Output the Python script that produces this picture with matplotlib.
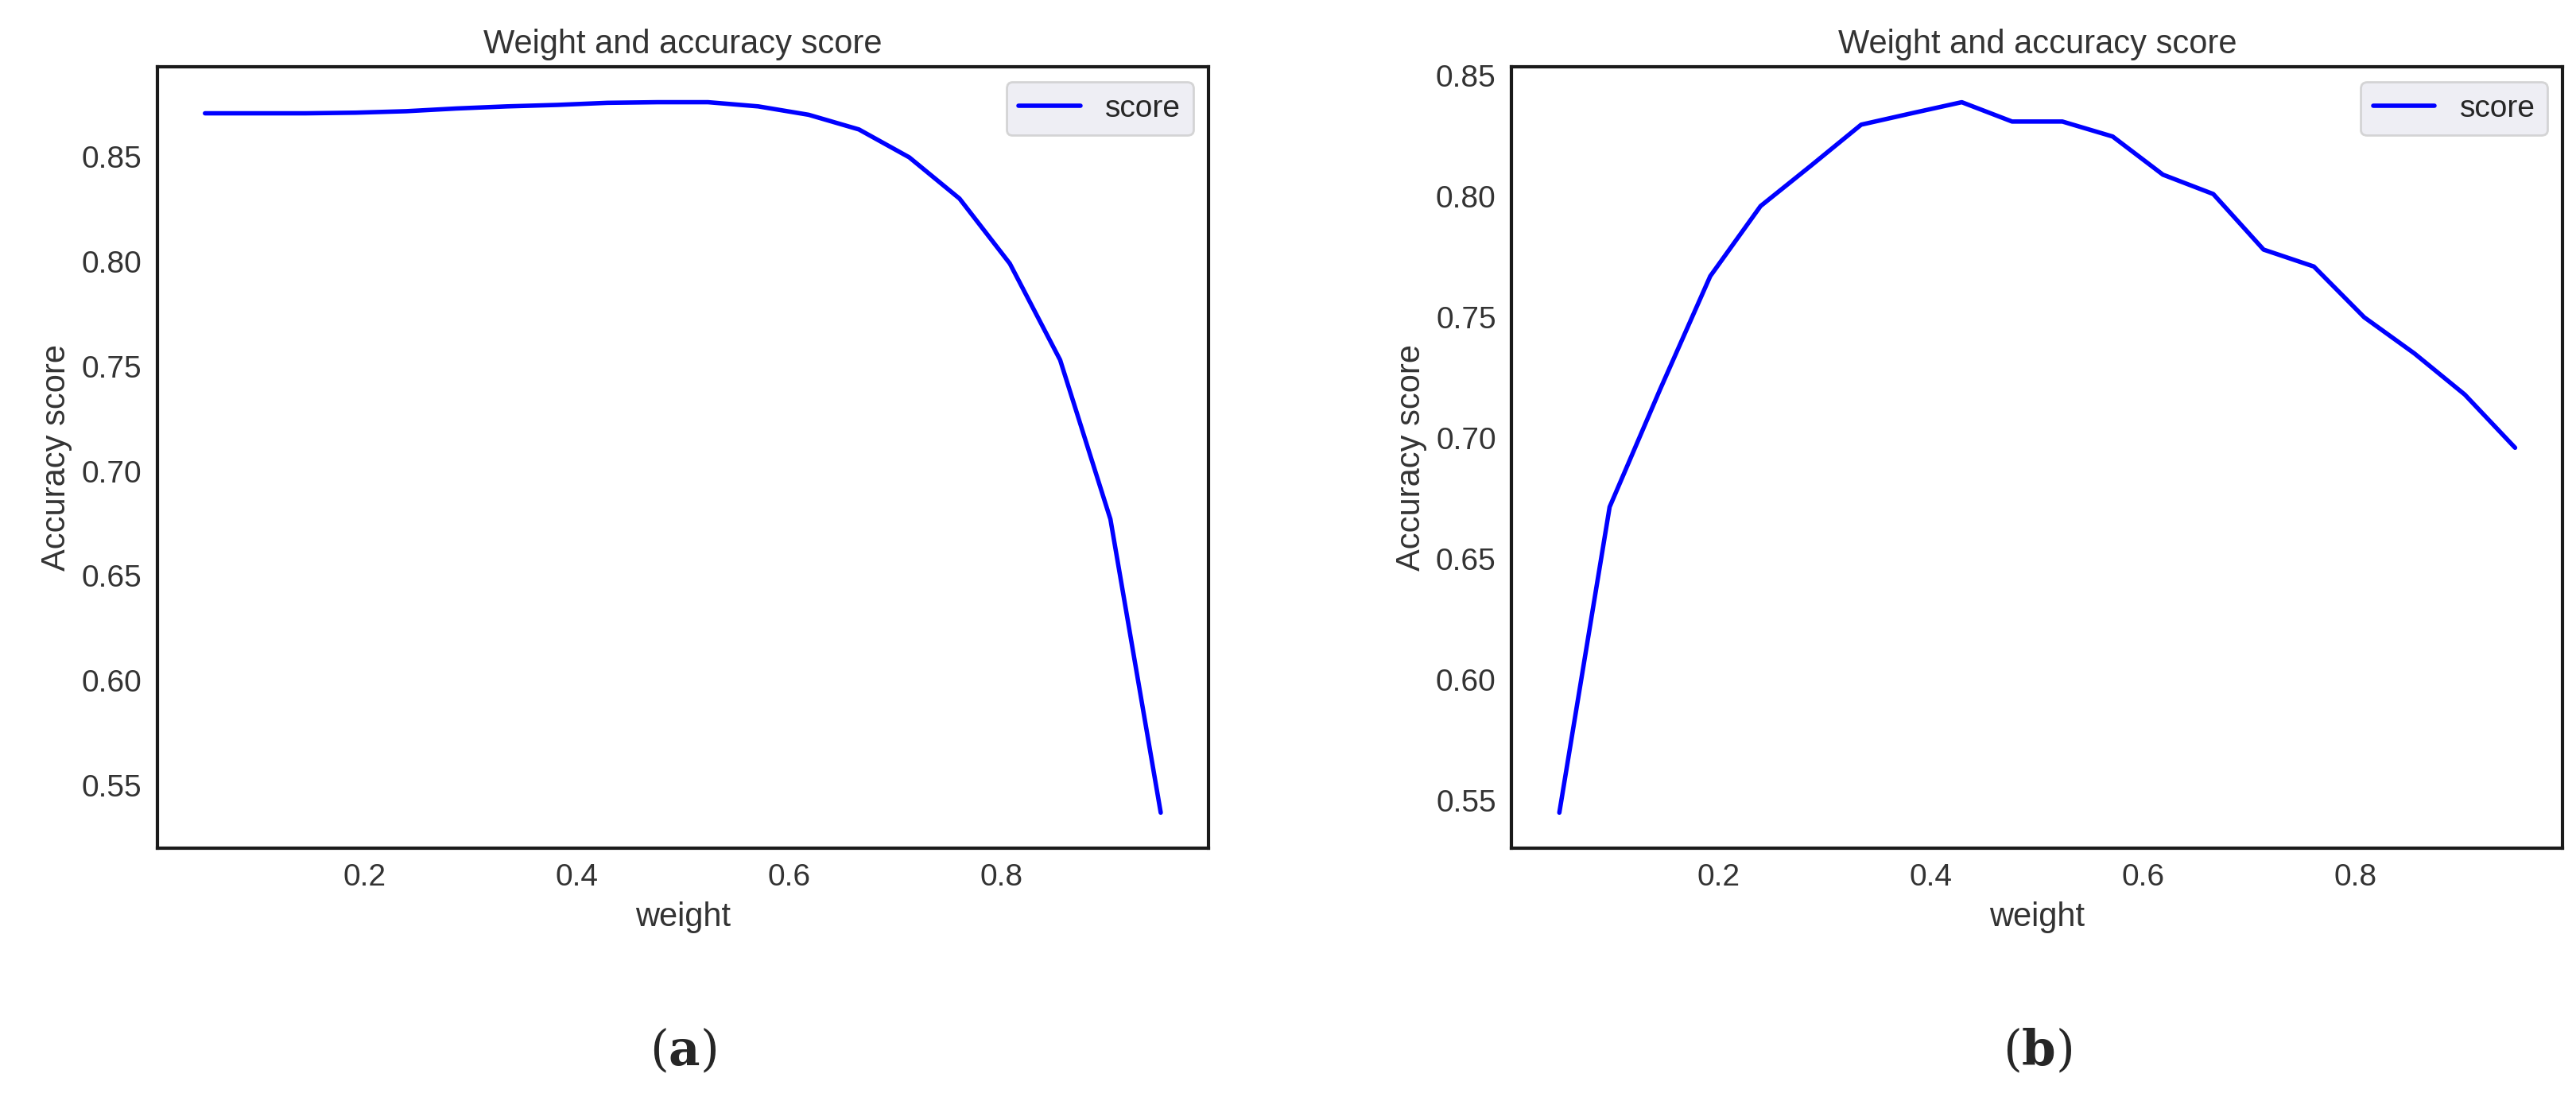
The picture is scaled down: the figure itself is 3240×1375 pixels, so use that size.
import matplotlib
matplotlib.use("Agg")
import matplotlib.pyplot as plt
import numpy as np
import seaborn as sns

sns.set_style("white")
plt.rcParams['font.family'] = ['Arial', 'Liberation Sans', 'DejaVu Sans']

# weights: 20 evenly spaced values between 0.05 and 0.95
weights = np.linspace(0.05, 0.95, 20)

score_a = [0.8707, 0.8707, 0.8707, 0.8710, 0.8717, 0.8730, 0.8740, 0.8747, 0.8757, 0.8760,
           0.8760, 0.8740, 0.8700, 0.8630, 0.8497, 0.8300, 0.7990, 0.7530, 0.6770, 0.5370]
score_b = [0.545, 0.6715, 0.720, 0.767, 0.796, 0.8127, 0.8297, 0.8344, 0.839, 0.831,
           0.831, 0.8248, 0.809, 0.801, 0.778, 0.771, 0.750, 0.735, 0.718, 0.696]

panels = [("(", "a", score_a), ("(", "b", score_b)]

fig = plt.figure(figsize=(16.205, 6.875), dpi=200)
lefts = [0.061, 0.5866]
for left, (_, tag, scores) in zip(lefts, panels):
    ax = fig.add_axes([left, 0.224, 0.408, 0.715])
    ax.plot(weights, scores, color="blue", lw=2, label="score")
    ax.set_title("Weight and accuracy score", fontsize=15, color="#333333")
    ax.set_xlabel("weight", fontsize=15, color="#333333")
    ax.set_ylabel("Accuracy score", fontsize=15, color="#333333")
    ax.tick_params(labelsize=14, colors="#333333")
    ax.set_xticks([0.2, 0.4, 0.6, 0.8])
    ax.yaxis.set_major_formatter(matplotlib.ticker.FormatStrFormatter('%.2f'))
    for s in ax.spines.values():
        s.set_color("#1a1a1a")
        s.set_linewidth(1.5)
    leg = ax.legend(loc="upper right", fontsize=14, frameon=True)
    leg.get_frame().set_facecolor("#EAEAF2")
    leg.get_frame().set_edgecolor("#CCCCCC")
    fig.text(left + 0.204, 0.038, r"($\mathbf{" + tag + r"}$)", ha="center", va="center",
             fontsize=22, family="serif", math_fontfamily="dejavuserif")

fig.savefig("out.png", dpi=200)
